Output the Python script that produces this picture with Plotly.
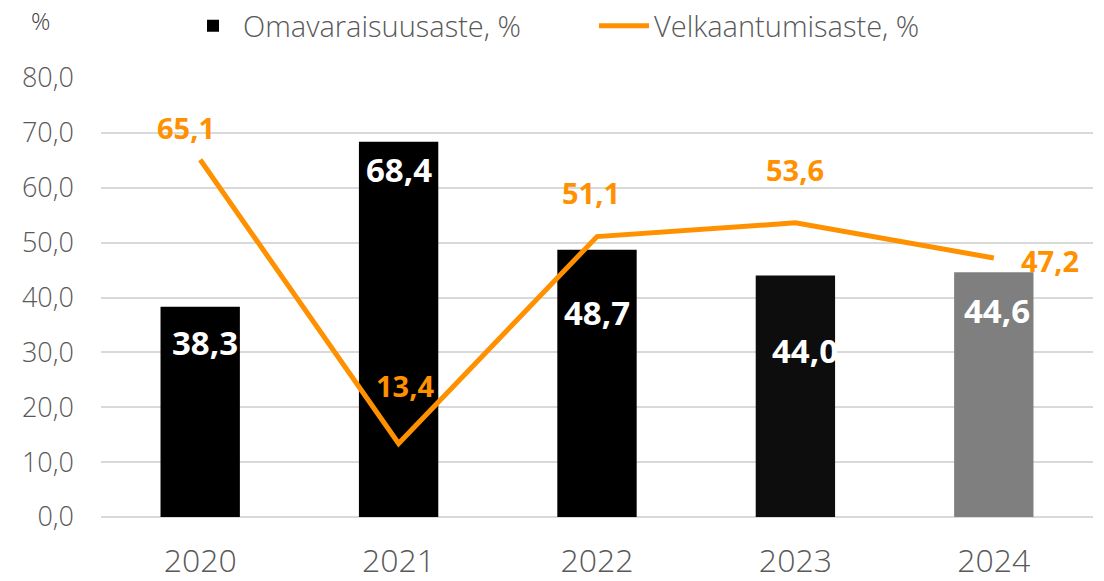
import plotly.graph_objects as go

years = ["2020", "2021", "2022", "2023", "2024"]
omavaraisuusaste = [38.3, 68.4, 48.7, 44.0, 44.6]
velkaantumisaste = [65.1, 13.4, 51.1, 53.6, 47.2]
bar_colors = ["#000000", "#000000", "#000000", "#0d0d0d", "#7f7f7f"]
y_ticks = [0, 10, 20, 30, 40, 50, 60, 70, 80]
y_tick_text = ["0,0", "10,0", "20,0", "30,0", "40,0", "50,0", "60,0", "70,0", "80,0"]

# label pixel offsets (style)
bar_label_shift = [(5, -36), (0, -28), (0, -63), (10, -75), (3, -38)]
line_label_shift = [(-14, 32), (6, 58), (-6, 44), (0, 53), (56, -3)]

ORANGE = "#ff9100"

def fmt(v):
    return f"{v:.1f}".replace(".", ",")

fig = go.Figure()
fig.add_trace(go.Bar(
    x=years, y=omavaraisuusaste, name="Omavaraisuusaste, %",
    marker=dict(color=bar_colors, line=dict(width=0)),
    width=0.40,
))
fig.add_trace(go.Scatter(
    x=years, y=velkaantumisaste, name="Velkaantumisaste, %",
    mode="lines", line=dict(color=ORANGE, width=5),
))

annotations = []
for i, (v, (dx, dy)) in enumerate(zip(omavaraisuusaste, bar_label_shift)):
    annotations.append(dict(x=i, y=v, text=fmt(v), showarrow=False,
                            xshift=dx, yshift=dy,
                            font=dict(family="Open Sans", size=33, color="white", weight="bold")))
for i, (v, (dx, dy)) in enumerate(zip(velkaantumisaste, line_label_shift)):
    annotations.append(dict(x=i, y=v, text=fmt(v), showarrow=False,
                            xshift=dx, yshift=dy,
                            font=dict(family="Open Sans", size=29, color=ORANGE, weight="bold")))
annotations.append(dict(xref="paper", yref="paper", x=-0.061, y=1.13, text="%",
                        showarrow=False, xanchor="center", yanchor="middle",
                        font=dict(family="Open Sans", size=24, color="#404040", weight=300)))

fig.update_layout(
    width=1104, height=581,
    margin=dict(l=101, r=11, t=78, b=64, autoexpand=False),
    plot_bgcolor="white", paper_bgcolor="white",
    showlegend=True,
    legend=dict(orientation="h", xref="container", yref="container",
                x=183 / 1104, y=1 - 26 / 581, xanchor="left", yanchor="middle",
                font=dict(family="Open Sans", size=29, color="#595959", weight=300),
                itemwidth=50, entrywidth=346, bgcolor="rgba(0,0,0,0)"),
    annotations=annotations,
    xaxis=dict(type="category", range=[-0.5, 4.5], showgrid=False, showline=False, ticks="",
               tickfont=dict(family="Open Sans", size=32, color="#595959", weight=300),
               ticklabelstandoff=22),
    yaxis=dict(range=[0, 80], tickvals=y_ticks, ticktext=y_tick_text,
               showgrid=True, gridcolor="#d9d9d9", gridwidth=2,
               zeroline=True, zerolinecolor="#d9d9d9", zerolinewidth=2,
               tickfont=dict(family="Open Sans", size=27, color="#595959", weight=300),
               ticklabelstandoff=26),
)

fig.write_html("out.html", config={"displayModeBar": False},
               post_script="document.body.style.margin='0';")
